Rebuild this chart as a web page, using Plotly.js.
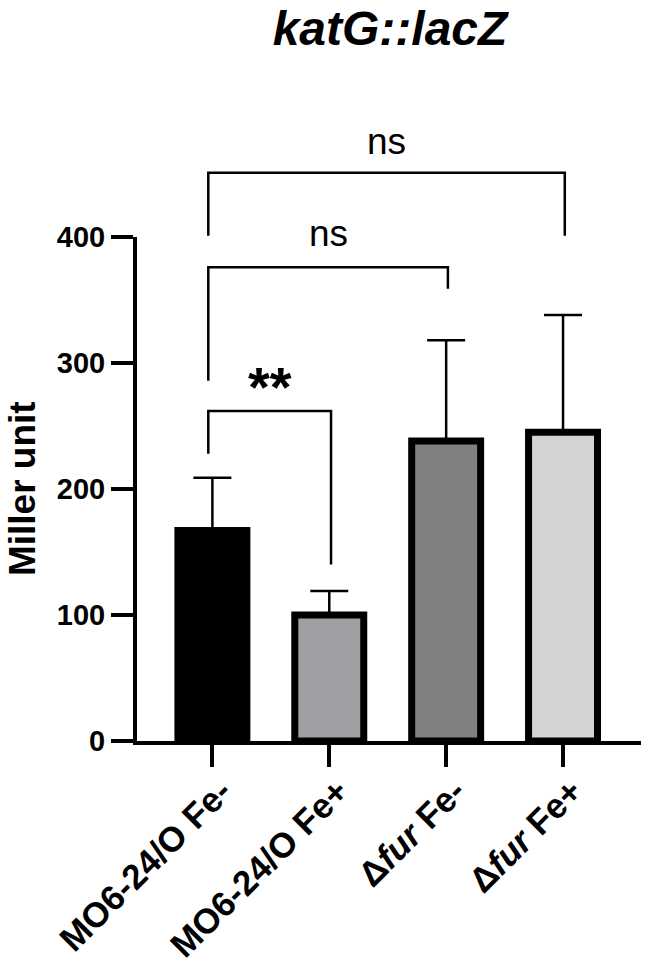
<!DOCTYPE html>
<html>
<head>
<meta charset="UTF-8">
<title>katG::lacZ</title>
<script src="https://cdn.plot.ly/plotly-3.0.1.min.js"></script>
<style>
  body { margin: 0; background: #fff; }
  #chart { width: 650px; height: 964px; }
</style>
</head>
<body>
<div id="chart"></div>
<script>
  // groups and Miller unit values (mean, upper SD)
  const groups = ['MO6-24/O Fe-', 'MO6-24/O Fe+', 'Δ<i>fur</i> Fe-', 'Δ<i>fur</i> Fe+'];
  const means = [167, 100, 238, 245];
  const sdUp = [42, 19, 80, 93];
  const fills = ['#000000', '#a0a0a4', '#808080', '#d3d3d3'];

  // significance brackets (heights in Miller units)
  const pairFrom = [0, 0, 0];
  const pairTo = [1, 2, 3];
  const pairLabel = ['**', 'ns', 'ns'];
  const pairTop = [262, 376, 451];
  const legLeft = [228, 286, 401];
  const legRight = [140, 359, 401];
  const labelAt = [281, 403, 476];

  const FONT = 'Arial, "Liberation Sans", Helvetica, sans-serif';
  const YMAX = 400;
  const idx = groups.map((_, i) => i);

  var trace = {
    x: idx,
    y: means,
    type: 'bar',
    width: 0.59,
    marker: { color: fills, line: { color: '#000', width: 7 } },
    error_y: {
      type: 'data', symmetric: false,
      array: sdUp, arrayminus: means.map(() => 0),
      color: '#000', thickness: 2.5, width: 19
    },
    hoverinfo: 'y'
  };

  var shapes = [];
  var annotations = [];
  pairFrom.forEach((a, i) => {
    var x0 = a - 0.035, x1 = pairTo[i] + 0.015;
    shapes.push({
      type: 'path', xref: 'x', yref: 'paper',
      path: 'M ' + x0 + ',' + legLeft[i] / YMAX + ' L ' + x0 + ',' + pairTop[i] / YMAX +
            ' L ' + x1 + ',' + pairTop[i] / YMAX + ' L ' + x1 + ',' + legRight[i] / YMAX,
      line: { color: '#000', width: 2.5 }
    });
    annotations.push({
      xref: 'x', yref: 'paper', x: (x0 + x1) / 2, y: labelAt[i] / YMAX,
      text: pairLabel[i], showarrow: false, xanchor: 'center', yanchor: 'middle',
      font: pairLabel[i] === '**'
        ? { family: FONT, size: 56, weight: 'bold', color: '#000' }
        : { family: FONT, size: 37, color: '#000' }
    });
  });

  annotations.push({
    xref: 'paper', yref: 'paper', x: -0.228, y: 0.5,
    text: 'Miller unit', textangle: -90, showarrow: false,
    xanchor: 'center', yanchor: 'middle',
    font: { family: FONT, size: 37, weight: 'bold', color: '#000' }
  });

  var layout = {
    width: 650, height: 964,
    margin: { l: 137, r: 9, t: 237, b: 223 },
    paper_bgcolor: '#fff', plot_bgcolor: '#fff',
    showlegend: false,
    font: { family: FONT, color: '#000' },
    title: {
      text: '<i>katG::lacZ</i>', x: 0.6, xanchor: 'center', y: 0.971, yanchor: 'middle',
      font: { family: FONT, size: 48, weight: 'bold', color: '#000' }
    },
    xaxis: {
      range: [-0.645, 3.667], automargin: false,
      tickvals: idx, ticktext: groups, tickangle: -45,
      ticks: 'outside', ticklen: 22, tickwidth: 4, tickcolor: '#000',
      ticklabelstandoff: -10, ticklabelshift: 9,
      showline: true, linewidth: 4, linecolor: '#000',
      showgrid: false, zeroline: false,
      tickfont: { family: FONT, size: 35, weight: 'bold', color: '#000' }
    },
    yaxis: {
      range: [0, YMAX], automargin: false,
      tickvals: [0, 100, 200, 300, 400],
      ticks: 'outside', ticklen: 22, tickwidth: 4, tickcolor: '#000',
      showline: true, linewidth: 4, linecolor: '#000',
      showgrid: false, zeroline: false,
      tickfont: { family: FONT, size: 29, weight: 'bold', color: '#000' }
    },
    shapes: shapes,
    annotations: annotations
  };

  Plotly.newPlot('chart', [trace], layout, { displayModeBar: false, staticPlot: true });
</script>
</body>
</html>
